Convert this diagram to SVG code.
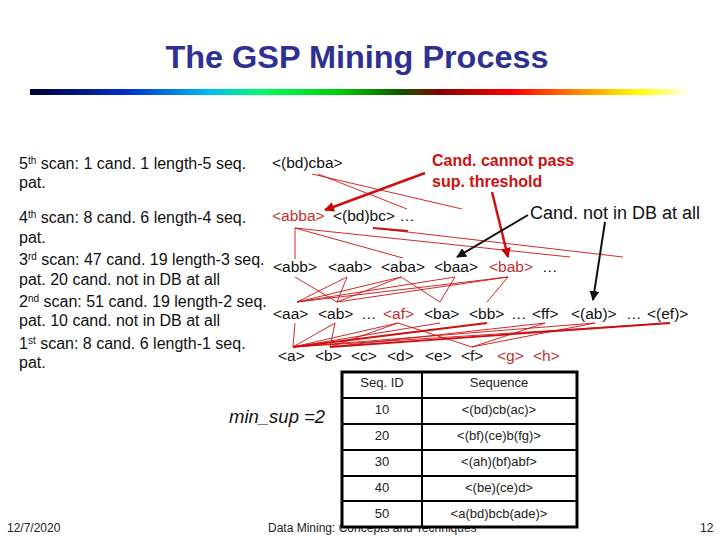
<svg xmlns="http://www.w3.org/2000/svg" width="720" height="540" viewBox="0 0 720 540">
<defs>
<linearGradient id="bar" x1="0" y1="0" x2="1" y2="0">
<stop offset="0" stop-color="#000033"/>
<stop offset="0.15" stop-color="#0033cc"/>
<stop offset="0.27" stop-color="#00bbee"/>
<stop offset="0.35" stop-color="#00ff66"/>
<stop offset="0.47" stop-color="#00cc00"/>
<stop offset="0.56" stop-color="#115500"/>
<stop offset="0.62" stop-color="#880000"/>
<stop offset="0.73" stop-color="#ff0000"/>
<stop offset="0.84" stop-color="#ff9900"/>
<stop offset="0.92" stop-color="#ffff00"/>
<stop offset="1" stop-color="#ffffff"/>
</linearGradient>
<marker id="ahRed" viewBox="0 0 10 10" refX="9" refY="5" markerWidth="4" markerHeight="4" orient="auto">
<path d="M0,0 L10,5 L0,10 z" fill="#cc0000"/>
</marker>
<marker id="ahBlack" viewBox="0 0 10 10" refX="9" refY="5" markerWidth="5" markerHeight="5" orient="auto">
<path d="M0,0 L10,5 L0,10 z" fill="#111"/>
</marker>
</defs>
<style>
text{font-family:"Liberation Sans",Arial,sans-serif;}
.l{font-size:16px;fill:#111;}
.t{font-size:15.5px;fill:#111;}
.r{fill:#c03030;}
.sup{font-size:10px;}
.tb{font-size:13px;fill:#222;text-anchor:middle;}
.ft{font-size:12px;fill:#222;}
.cn line{stroke:#cc1111;stroke-width:0.9;}
</style>
<rect width="720" height="540" fill="#ffffff"/>
<g id="title">
<text x="357" y="68" text-anchor="middle" font-size="31" font-weight="bold" fill="#2e3192" textLength="383" lengthAdjust="spacingAndGlyphs">The GSP Mining Process</text>
<rect x="30" y="89" width="662" height="6" fill="url(#bar)"/>
</g>
<g id="left-text">
<text class="l" x="19" y="169">5<tspan class="sup" dy="-5">th</tspan><tspan dy="5"> scan: 1 cand. 1 length-5 seq.</tspan></text>
<text class="l" x="19" y="188">pat.</text>
<text class="l" x="19" y="223">4<tspan class="sup" dy="-5">th</tspan><tspan dy="5"> scan: 8 cand. 6 length-4 seq.</tspan></text>
<text class="l" x="19" y="243">pat.</text>
<text class="l" x="19" y="265">3<tspan class="sup" dy="-5">rd</tspan><tspan dy="5"> scan: 47 cand. 19 length-3 seq.</tspan></text>
<text class="l" x="19" y="285">pat. 20 cand. not in DB at all</text>
<text class="l" x="19" y="307">2<tspan class="sup" dy="-5">nd</tspan><tspan dy="5"> scan: 51 cand. 19 length-2 seq.</tspan></text>
<text class="l" x="19" y="326">pat. 10 cand. not in DB at all</text>
<text class="l" x="19" y="349">1<tspan class="sup" dy="-5">st</tspan><tspan dy="5"> scan: 8 cand. 6 length-1 seq.</tspan></text>
<text class="l" x="19" y="368">pat.</text>
</g>
<g id="connectors" class="cn">
<line x1="312" y1="174" x2="462" y2="209"/>
<line x1="318" y1="174" x2="407" y2="209"/>
<line x1="295" y1="228" x2="295" y2="259"/>
<line x1="295" y1="228" x2="403" y2="258"/>
<line x1="295" y1="228" x2="570" y2="257"/>
<line x1="373" y1="228" x2="623" y2="257"/>
<line x1="373" y1="228" x2="408" y2="231" style="stroke-width:2.2"/>
<line x1="295" y1="277" x2="337" y2="302"/>
<line x1="347" y1="277" x2="297" y2="302"/>
<line x1="347" y1="277" x2="337" y2="302"/>
<line x1="297" y1="302" x2="401" y2="277"/>
<line x1="297" y1="302" x2="455" y2="277"/>
<line x1="297" y1="302" x2="508" y2="277"/>
<line x1="337" y1="302" x2="401" y2="277"/>
<line x1="337" y1="302" x2="508" y2="277"/>
<line x1="401" y1="277" x2="440" y2="302"/>
<line x1="455" y1="277" x2="440" y2="302"/>
<line x1="508" y1="277" x2="487" y2="302"/>
<line x1="295" y1="323" x2="293" y2="347"/>
<line x1="293" y1="347" x2="335" y2="323"/>
<line x1="330" y1="347" x2="335" y2="323"/>
<line x1="293" y1="347" x2="398" y2="323"/>
<line x1="330" y1="347" x2="398" y2="323"/>
<line x1="293" y1="347" x2="440" y2="323"/>
<line x1="293" y1="347" x2="487" y2="323" style="stroke-width:2"/>
<line x1="330" y1="347" x2="545" y2="323"/>
<line x1="293" y1="347" x2="595" y2="323"/>
<line x1="330" y1="347" x2="670" y2="323" style="stroke-width:1.8"/>
<line x1="398" y1="323" x2="472" y2="347"/>
<line x1="545" y1="323" x2="472" y2="347"/>
<line x1="472" y1="347" x2="595" y2="323"/>
<line x1="293" y1="347" x2="670" y2="323"/>
<line x1="425" y1="173" x2="325" y2="210" style="stroke-width:2.5" marker-end="url(#ahRed)"/>
<line x1="492" y1="192" x2="508" y2="257" style="stroke-width:2.5" marker-end="url(#ahRed)"/>
<line x1="528" y1="215" x2="457" y2="257" style="stroke:#111;stroke-width:2" marker-end="url(#ahBlack)"/>
<line x1="605" y1="222" x2="593" y2="300" style="stroke:#111;stroke-width:2" marker-end="url(#ahBlack)"/>
</g>
<g id="level5"><text class="t" x="272" y="168">&lt;(bd)cba&gt;</text></g>
<g id="level4">
<text class="t r" x="272" y="221">&lt;abba&gt;</text>
<text class="t" x="333" y="221">&lt;(bd)bc&gt; …</text>
</g>
<g id="level3">
<text class="t" x="273" y="272">&lt;abb&gt;</text>
<text class="t" x="328" y="272">&lt;aab&gt;</text>
<text class="t" x="381" y="272">&lt;aba&gt;</text>
<text class="t" x="434" y="272">&lt;baa&gt;</text>
<text class="t r" x="489" y="272">&lt;bab&gt;</text>
<text class="t" x="542" y="272">…</text>
</g>
<g id="level2">
<text class="t" x="273" y="319">&lt;aa&gt;</text>
<text class="t" x="318" y="319">&lt;ab&gt;</text>
<text class="t" x="361" y="319">…</text>
<text class="t r" x="383" y="319">&lt;af&gt;</text>
<text class="t" x="424" y="319">&lt;ba&gt;</text>
<text class="t" x="469" y="319">&lt;bb&gt;</text>
<text class="t" x="511" y="319">…</text>
<text class="t" x="532" y="319">&lt;ff&gt;</text>
<text class="t" x="571" y="319">&lt;(ab)&gt;</text>
<text class="t" x="626" y="319">…</text>
<text class="t" x="647" y="319">&lt;(ef)&gt;</text>
</g>
<g id="level1">
<text class="t" x="278" y="361">&lt;a&gt;</text>
<text class="t" x="315" y="361">&lt;b&gt;</text>
<text class="t" x="351" y="361">&lt;c&gt;</text>
<text class="t" x="387" y="361">&lt;d&gt;</text>
<text class="t" x="425" y="361">&lt;e&gt;</text>
<text class="t" x="461" y="361">&lt;f&gt;</text>
<text class="t r" x="497" y="361">&lt;g&gt;</text>
<text class="t r" x="533" y="361">&lt;h&gt;</text>
</g>
<g id="note-cannot-pass">
<text x="432" y="166" font-size="16" font-weight="bold" fill="#cc1111">Cand. cannot pass</text>
<text x="432" y="187" font-size="16" font-weight="bold" fill="#cc1111">sup. threshold</text>
</g>
<g id="note-not-in-db">
<text x="530" y="219" font-size="18" fill="#111">Cand. not in DB at all</text>
</g>
<g id="min-sup">
<text x="229" y="423" font-size="18.5" font-style="italic" fill="#111">min_sup =2</text>
</g>
<g id="footer">
<text class="ft" x="7" y="532">12/7/2020</text>
<text class="ft" x="268" y="532">Data Mining: Concepts and Techniques</text>
<text class="ft" x="700" y="532">12</text>
</g>
<g id="table">
<rect x="342" y="372" width="235" height="155" fill="#ffffff" stroke="#000" stroke-width="3"/>
<g stroke="#000" stroke-width="2">
<line x1="422" y1="372" x2="422" y2="527"/>
<line x1="342" y1="398" x2="577" y2="398"/>
<line x1="342" y1="424" x2="577" y2="424"/>
<line x1="342" y1="450" x2="577" y2="450"/>
<line x1="342" y1="476" x2="577" y2="476"/>
<line x1="342" y1="501" x2="577" y2="501"/>
</g>
<text class="tb" x="382" y="387">Seq. ID</text><text class="tb" x="499" y="387">Sequence</text>
<text class="tb" x="382" y="414">10</text><text class="tb" x="499" y="414">&lt;(bd)cb(ac)&gt;</text>
<text class="tb" x="382" y="440">20</text><text class="tb" x="499" y="440">&lt;(bf)(ce)b(fg)&gt;</text>
<text class="tb" x="382" y="466">30</text><text class="tb" x="499" y="466">&lt;(ah)(bf)abf&gt;</text>
<text class="tb" x="382" y="492">40</text><text class="tb" x="499" y="492">&lt;(be)(ce)d&gt;</text>
<text class="tb" x="382" y="518">50</text><text class="tb" x="499" y="518">&lt;a(bd)bcb(ade)&gt;</text>
</g>
</svg>
